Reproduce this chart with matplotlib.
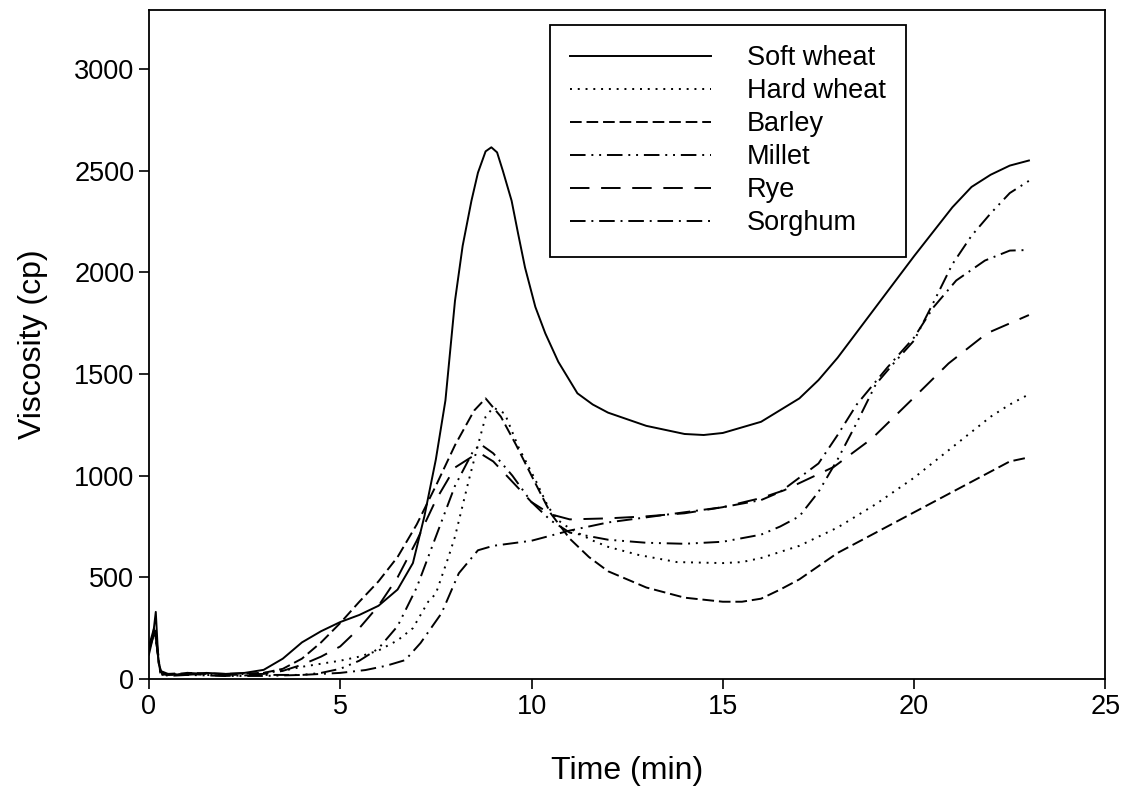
import matplotlib
matplotlib.use("Agg")
import matplotlib.pyplot as plt

plt.rcParams['font.family'] = ['Liberation Sans', 'DejaVu Sans']

# Soft wheat (solid)
t_soft = [0, 0.1, 0.18, 0.25, 0.35, 0.5, 1, 1.5, 2, 2.5, 3, 3.5, 4, 4.5, 5, 5.5, 6, 6.5,
          6.9, 7.2, 7.5, 7.75, 8.0, 8.2, 8.43, 8.6, 8.8, 8.95, 9.1, 9.25, 9.48, 9.65, 9.83,
          10.1, 10.36, 10.7, 11.2, 11.6, 12, 13, 14, 14.5, 15, 16, 17, 17.5, 18, 19, 20,
          21, 21.5, 22, 22.5, 23]
v_soft = [120, 200, 330, 80, 20, 25, 20, 30, 25, 30, 45, 100, 180, 235, 280, 315, 360, 440,
          570, 800, 1080, 1370, 1860, 2130, 2352, 2490, 2595, 2615, 2590, 2500, 2352, 2190,
          2024, 1830, 1700, 1560, 1405, 1350, 1310, 1245, 1205, 1200, 1210, 1265, 1380,
          1470, 1580, 1830, 2080, 2320, 2420, 2480, 2525, 2550]

# Hard wheat (dotted)
t_hard = [0, 0.15, 0.3, 0.5, 1, 2, 3, 3.5, 4, 4.5, 5, 5.5, 6, 6.5, 6.9, 7.3, 7.5, 7.83, 8.0,
          8.36, 8.6, 8.8, 9.0, 9.3, 9.66, 10.1, 10.44, 10.7, 11.0, 11.57, 12.0, 12.8, 13.8,
          15.0, 15.5, 16, 17, 18, 19, 20, 21, 22, 22.5, 23]
v_hard = [150, 250, 30, 20, 25, 20, 30, 40, 60, 75, 90, 110, 140, 190, 250, 380, 420, 600,
          700, 977, 1150, 1290, 1335, 1306, 1140, 980, 845, 780, 740, 683, 650, 610, 575,
          570, 575, 595, 655, 745, 860, 990, 1140, 1290, 1350, 1400]

# Barley (dashed)
t_barley = [0, 0.15, 0.3, 0.5, 1, 2, 3, 3.5, 4, 4.5, 5, 5.5, 6, 6.5, 7, 7.5, 8, 8.5, 8.8,
            9.2, 9.6, 10, 10.5, 11, 11.5, 12, 13, 14, 15, 15.5, 16, 16.5, 17, 18, 19, 20,
            21, 22, 22.5, 23]
v_barley = [150, 240, 30, 20, 30, 25, 30, 50, 100, 180, 275, 380, 480, 600, 760, 950, 1150,
            1320, 1380, 1290, 1150, 1000, 815, 690, 600, 530, 450, 400, 380, 380, 395, 440,
            490, 620, 720, 820, 920, 1020, 1070, 1090]

# Millet (dash-dot-dot)
t_millet = [0, 0.15, 0.3, 0.5, 1, 2, 3, 4, 4.5, 5, 5.5, 6, 6.5, 7, 7.5, 8, 8.5, 8.7, 9, 9.5,
            10, 10.5, 11, 12, 13, 14, 15, 16, 16.5, 17, 17.5, 18, 18.5, 19, 19.5, 20, 20.5,
            21, 21.5, 22, 22.5, 23]
v_millet = [140, 230, 30, 15, 20, 15, 15, 20, 30, 50, 90, 150, 260, 450, 700, 950, 1130,
            1150, 1110, 1000, 870, 780, 720, 685, 670, 665, 675, 710, 750, 800, 920, 1080,
            1260, 1450, 1560, 1665, 1850, 2040, 2180, 2290, 2390, 2450]

# Rye (long dash)
t_rye = [0, 0.15, 0.3, 0.5, 1, 2, 3, 3.5, 4, 4.5, 5, 5.5, 6, 6.5, 7, 7.5, 8, 8.5, 8.7, 9,
         9.5, 10, 10.5, 11, 12, 13, 14, 15, 16, 16.6, 17.9, 18.9, 19.2, 20, 20.9, 21.9, 23]
v_rye = [160, 260, 40, 25, 30, 20, 25, 40, 70, 110, 160, 250, 360, 500, 680, 880, 1040,
         1100, 1105, 1070, 970, 870, 810, 785, 790, 800, 815, 845, 890, 928, 1043, 1183,
         1238, 1385, 1552, 1700, 1790]

# Sorghum (dash-dot)
t_sorghum = [0, 0.15, 0.3, 0.5, 1, 2, 3, 4, 5, 5.66, 6.2, 6.7, 7.1, 7.65, 8.1, 8.6, 9, 10,
             11, 12, 13, 14, 15, 16, 16.5, 17, 17.5, 18, 18.5, 19.3, 20.0, 20.5, 21.1, 21.85,
             22.5, 23]
v_sorghum = [150, 240, 35, 20, 25, 15, 20, 20, 30, 44, 65, 93, 177, 324, 520, 633, 655, 680,
             730, 770, 795, 820, 845, 880, 920, 990, 1060, 1200, 1350, 1532, 1680, 1827,
             1960, 2058, 2107, 2110]

series = [
    ("Soft wheat", t_soft, v_soft, '-'),
    ("Hard wheat", t_hard, v_hard, (0, (1, 3))),
    ("Barley", t_barley, v_barley, (0, (6, 2.5))),
    ("Millet", t_millet, v_millet, (0, (8, 3, 1, 3, 1, 3))),
    ("Rye", t_rye, v_rye, (0, (10, 6))),
    ("Sorghum", t_sorghum, v_sorghum, (0, (8, 3, 1, 3))),
]

fig = plt.figure(figsize=(11.28, 7.91), dpi=100)
ax = fig.add_axes([0.132, 0.1416, 0.848, 0.8457])

for name, t, v, ls in series:
    ax.plot(t, v, color='black', linestyle=ls, linewidth=1.4, label=name)

ax.set_xlim(0, 25)
ax.set_ylim(0, 3290)
ax.set_xticks([0, 5, 10, 15, 20, 25])
ax.set_yticks([0, 500, 1000, 1500, 2000, 2500, 3000])
ax.tick_params(direction='out', length=7, width=1.2, labelsize=19.5, top=False, right=False)
for s in ax.spines.values():
    s.set_linewidth(1.3)

ax.set_xlabel('Time (min)', fontsize=23, labelpad=26)
ax.set_ylabel('Viscosity (cp)', fontsize=23, labelpad=19)

leg = ax.legend(loc='upper left', bbox_to_anchor=(0.4195, 0.978), borderaxespad=0,
                fontsize=19.5, handlelength=5.2, handletextpad=1.3, labelspacing=0.26,
                borderpad=0.75, fancybox=False, framealpha=1, edgecolor='black')
leg.get_frame().set_linewidth(1.3)

fig.savefig('out.png', dpi=100)
